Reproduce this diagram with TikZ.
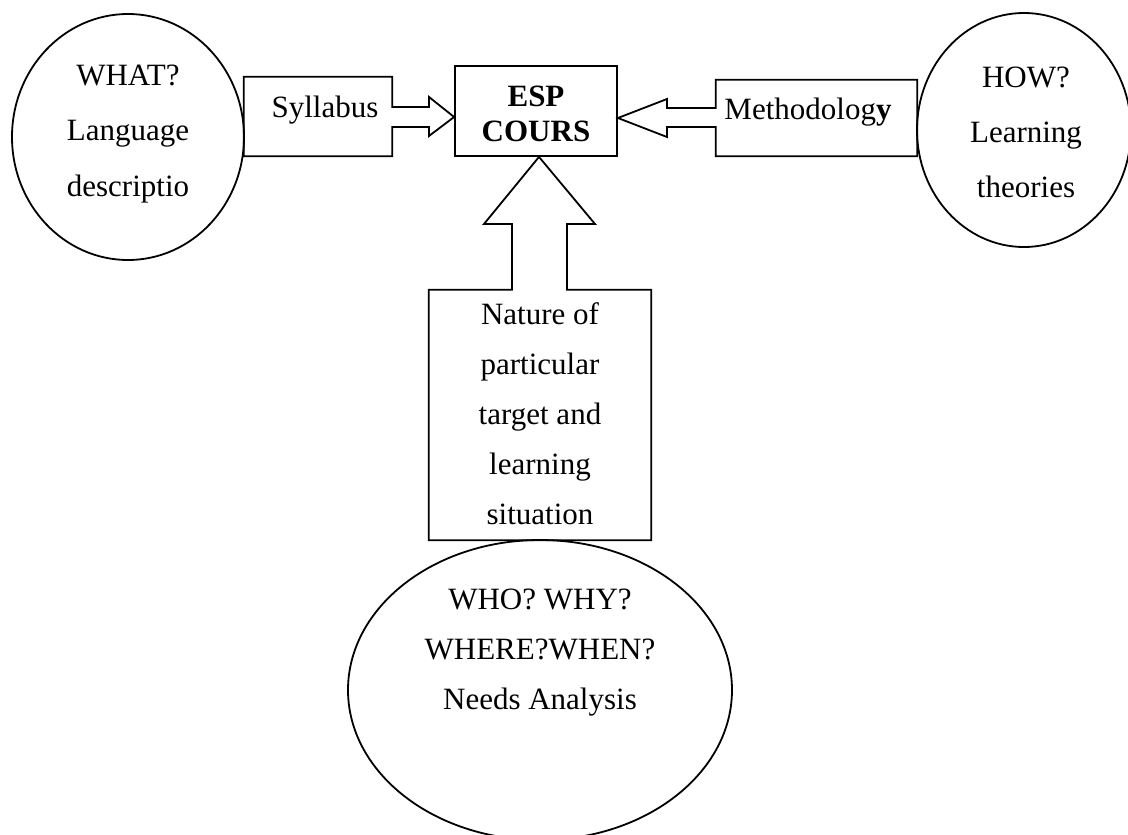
\documentclass[tikz,border=0pt]{standalone}
\usepackage{fontspec}
\setmainfont{Liberation Serif}
\usetikzlibrary{shapes.geometric}

\tikzset{
  outline/.style={draw=black, line width=1.8pt, line join=miter},
  bubble/.style={ellipse, outline, inner sep=0pt},
  frame/.style={rectangle, inner sep=0pt},
  txt/.style={align=center, inner sep=0pt, font=\fontsize{31}{#1}\selectfont},
  txt/.default=50,
}

\begin{document}
\begin{tikzpicture}[x=1pt, y=-1pt]
  \clip (0,0) rectangle (1128,835);
  \fill[white] (0,0) rectangle (1128,835);

  % central course box
  \node[frame, outline, minimum width=162pt, minimum height=90pt] (esp) at (536,111) {};
  \node[txt=35, font=\fontsize{31}{35}\selectfont\bfseries] (espT) at (536,114) {ESP\\COURS};

  % the three question bubbles
  \node[bubble, minimum width=232pt, minimum height=246pt] (what) at (128,137) {};
  \node[bubble, minimum width=214pt, minimum height=234pt] (how) at (1024,130) {};
  \node[bubble, minimum width=384pt, minimum height=300pt] (who) at (540,690) {};

  \node[txt=55.5] (whatT) at (128,134) {WHAT?\\Language\\descriptio};
  \node[txt=55] (howT) at (1026,132) {HOW?\\Learning\\theories};
  \node[txt=50] (whoT) at (540,653) {WHO? WHY?\\WHERE?WHEN?\\Needs Analysis};

  % frames of the arrow callouts
  \node[frame, minimum width=148pt, minimum height=79pt] (syl) at (318,116.5) {};
  \node[frame, minimum width=201pt, minimum height=76pt] (meth) at (816.5,118) {};
  \node[frame, minimum width=222pt, minimum height=250pt] (nat) at (540,415) {};

  % Syllabus callout pointing right
  \draw[outline] (syl.north west) -- (syl.north east) -- (syl.north east |- 0,107)
    -- (429,107) -- (429,97) -- (esp.west |- 0,117) -- (429,136) -- (429,127)
    -- (syl.south east |- 0,127) -- (syl.south east) -- (syl.south west) -- cycle;

  % Methodology callout pointing left
  \draw[outline] (meth.north east) -- (meth.north west) -- (meth.north west |- 0,108)
    -- (667,108) -- (667,99) -- (esp.east |- 0,118) -- (667,137) -- (667,127)
    -- (meth.south west |- 0,127) -- (meth.south west) -- (meth.south east) -- cycle;

  % situation callout pointing up
  \draw[outline] (nat.south west) -- (nat.north west) -- (nat.north west -| 512,0)
    -- (512,224) -- (484,224) -- (539,0 |- esp.south) -- (595,224) -- (567,224)
    -- (nat.north east -| 567,0) -- (nat.north east) -- (nat.south east) -- cycle;

  \node[txt] (sylT) at (325,110) {Syllabus};
  \node[txt] (methT) at (808,112) {Methodolog\textbf{y}};
  \node[txt=50] (natT) at (540,414) {Nature of\\particular\\target and\\learning\\situation};
\end{tikzpicture}
\end{document}
